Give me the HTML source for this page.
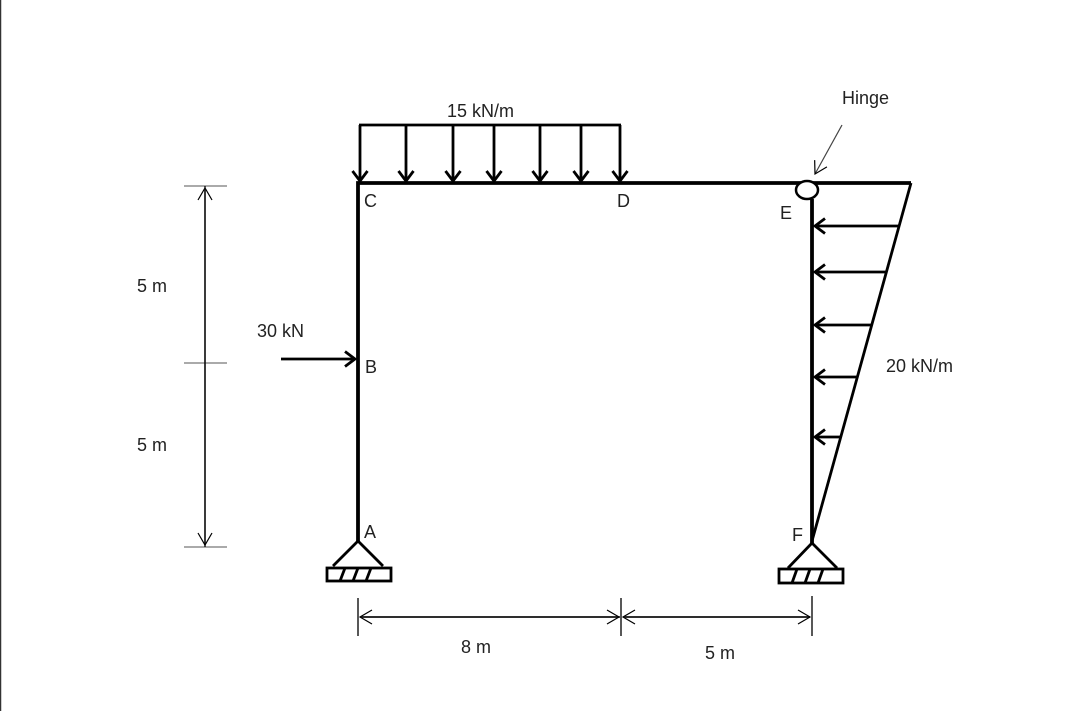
<!DOCTYPE html>
<html><head><style>
html,body{margin:0;padding:0;background:#fff;}
svg{display:block;}
text{font-family:"Liberation Sans",sans-serif;font-size:18px;fill:#222;}
</style></head><body>
<svg width="1080" height="711" viewBox="0 0 1080 711">
<defs>
<marker id="ah" markerWidth="14" markerHeight="18" refX="11" refY="9" orient="auto" markerUnits="userSpaceOnUse">
<path d="M1,1.5 L11,9 L1,16.5" fill="none" stroke="#000" stroke-width="2.8"/>
</marker>
<marker id="ahs" markerWidth="16" markerHeight="16" refX="13" refY="8" orient="auto" markerUnits="userSpaceOnUse">
<path d="M1,1 L13,8 L1,15" fill="none" stroke="#000" stroke-width="1.2"/>
</marker>
</defs>
<line x1="0.5" y1="0" x2="0.5" y2="711" stroke="#333" stroke-width="1.5"/>
<g stroke="#000" stroke-width="3.8" fill="none">
<polyline points="358,541 358,183 911,183"/>
<line x1="812" y1="199" x2="812" y2="543"/>
<line x1="911" y1="183" x2="812" y2="541" stroke-width="2.8"/>
</g>
<ellipse cx="807" cy="190" rx="11" ry="9" fill="#fff" stroke="#000" stroke-width="2.5"/>
<g stroke="#000" stroke-width="2.8" fill="none">
<line x1="359" y1="125" x2="621" y2="125"/>
<line x1="360" y1="125" x2="360" y2="181" marker-end="url(#ah)"/>
<line x1="406" y1="125" x2="406" y2="181" marker-end="url(#ah)"/>
<line x1="453" y1="125" x2="453" y2="181" marker-end="url(#ah)"/>
<line x1="494" y1="125" x2="494" y2="181" marker-end="url(#ah)"/>
<line x1="540" y1="125" x2="540" y2="181" marker-end="url(#ah)"/>
<line x1="581" y1="125" x2="581" y2="181" marker-end="url(#ah)"/>
<line x1="620" y1="125" x2="620" y2="181" marker-end="url(#ah)"/>
<line x1="899" y1="226" x2="815" y2="226" marker-end="url(#ah)"/>
<line x1="886" y1="272" x2="815" y2="272" marker-end="url(#ah)"/>
<line x1="872" y1="325" x2="815" y2="325" marker-end="url(#ah)"/>
<line x1="857" y1="377" x2="815" y2="377" marker-end="url(#ah)"/>
<line x1="840" y1="437" x2="815" y2="437" marker-end="url(#ah)"/>
<line x1="281" y1="359" x2="355" y2="359" marker-end="url(#ah)"/>
</g>
<line x1="842" y1="125" x2="815" y2="174" stroke="#444" stroke-width="1.2" marker-end="url(#ahs)"/>
<g stroke="#000" stroke-width="2.8" fill="none">
<polyline points="333,566 358,541 383,566"/>
<rect x="327" y="568" width="64" height="13"/>
<line x1="340" y1="581" x2="345" y2="568"/><line x1="353" y1="581" x2="358" y2="568"/><line x1="366" y1="581" x2="371" y2="568"/>
<polyline points="788,568 812,543 837,568"/>
<rect x="779" y="569" width="64" height="14"/>
<line x1="792" y1="583" x2="797" y2="569"/><line x1="805" y1="583" x2="810" y2="569"/><line x1="818" y1="583" x2="823" y2="569"/>
</g>
<g stroke="#555" stroke-width="1">
<line x1="184" y1="186" x2="227" y2="186"/>
<line x1="184" y1="363" x2="227" y2="363"/>
<line x1="184" y1="547" x2="227" y2="547"/>
</g>
<g stroke="#111" stroke-width="1.4" fill="none">
<line x1="205" y1="547" x2="205" y2="188" marker-end="url(#ahs)"/>
<line x1="205" y1="186" x2="205" y2="545" marker-end="url(#ahs)"/>
<line x1="358" y1="598" x2="358" y2="636"/>
<line x1="621" y1="598" x2="621" y2="636"/>
<line x1="812" y1="596" x2="812" y2="636"/>
<line x1="620" y1="617" x2="360" y2="617" marker-end="url(#ahs)"/>
<line x1="360" y1="617" x2="619" y2="617" marker-end="url(#ahs)"/>
<line x1="810" y1="617" x2="623" y2="617" marker-end="url(#ahs)"/>
<line x1="623" y1="617" x2="810" y2="617" marker-end="url(#ahs)"/>
</g>
<text x="447" y="117">15 kN/m</text>
<text x="842" y="104">Hinge</text>
<text x="364" y="207">C</text>
<text x="617" y="207">D</text>
<text x="780" y="219">E</text>
<text x="365" y="373">B</text>
<text x="364" y="538">A</text>
<text x="792" y="541">F</text>
<text x="257" y="337">30 kN</text>
<text x="886" y="372">20 kN/m</text>
<text x="137" y="292">5 m</text>
<text x="137" y="451">5 m</text>
<text x="461" y="653">8 m</text>
<text x="705" y="659">5 m</text>
</svg>
</body></html>
